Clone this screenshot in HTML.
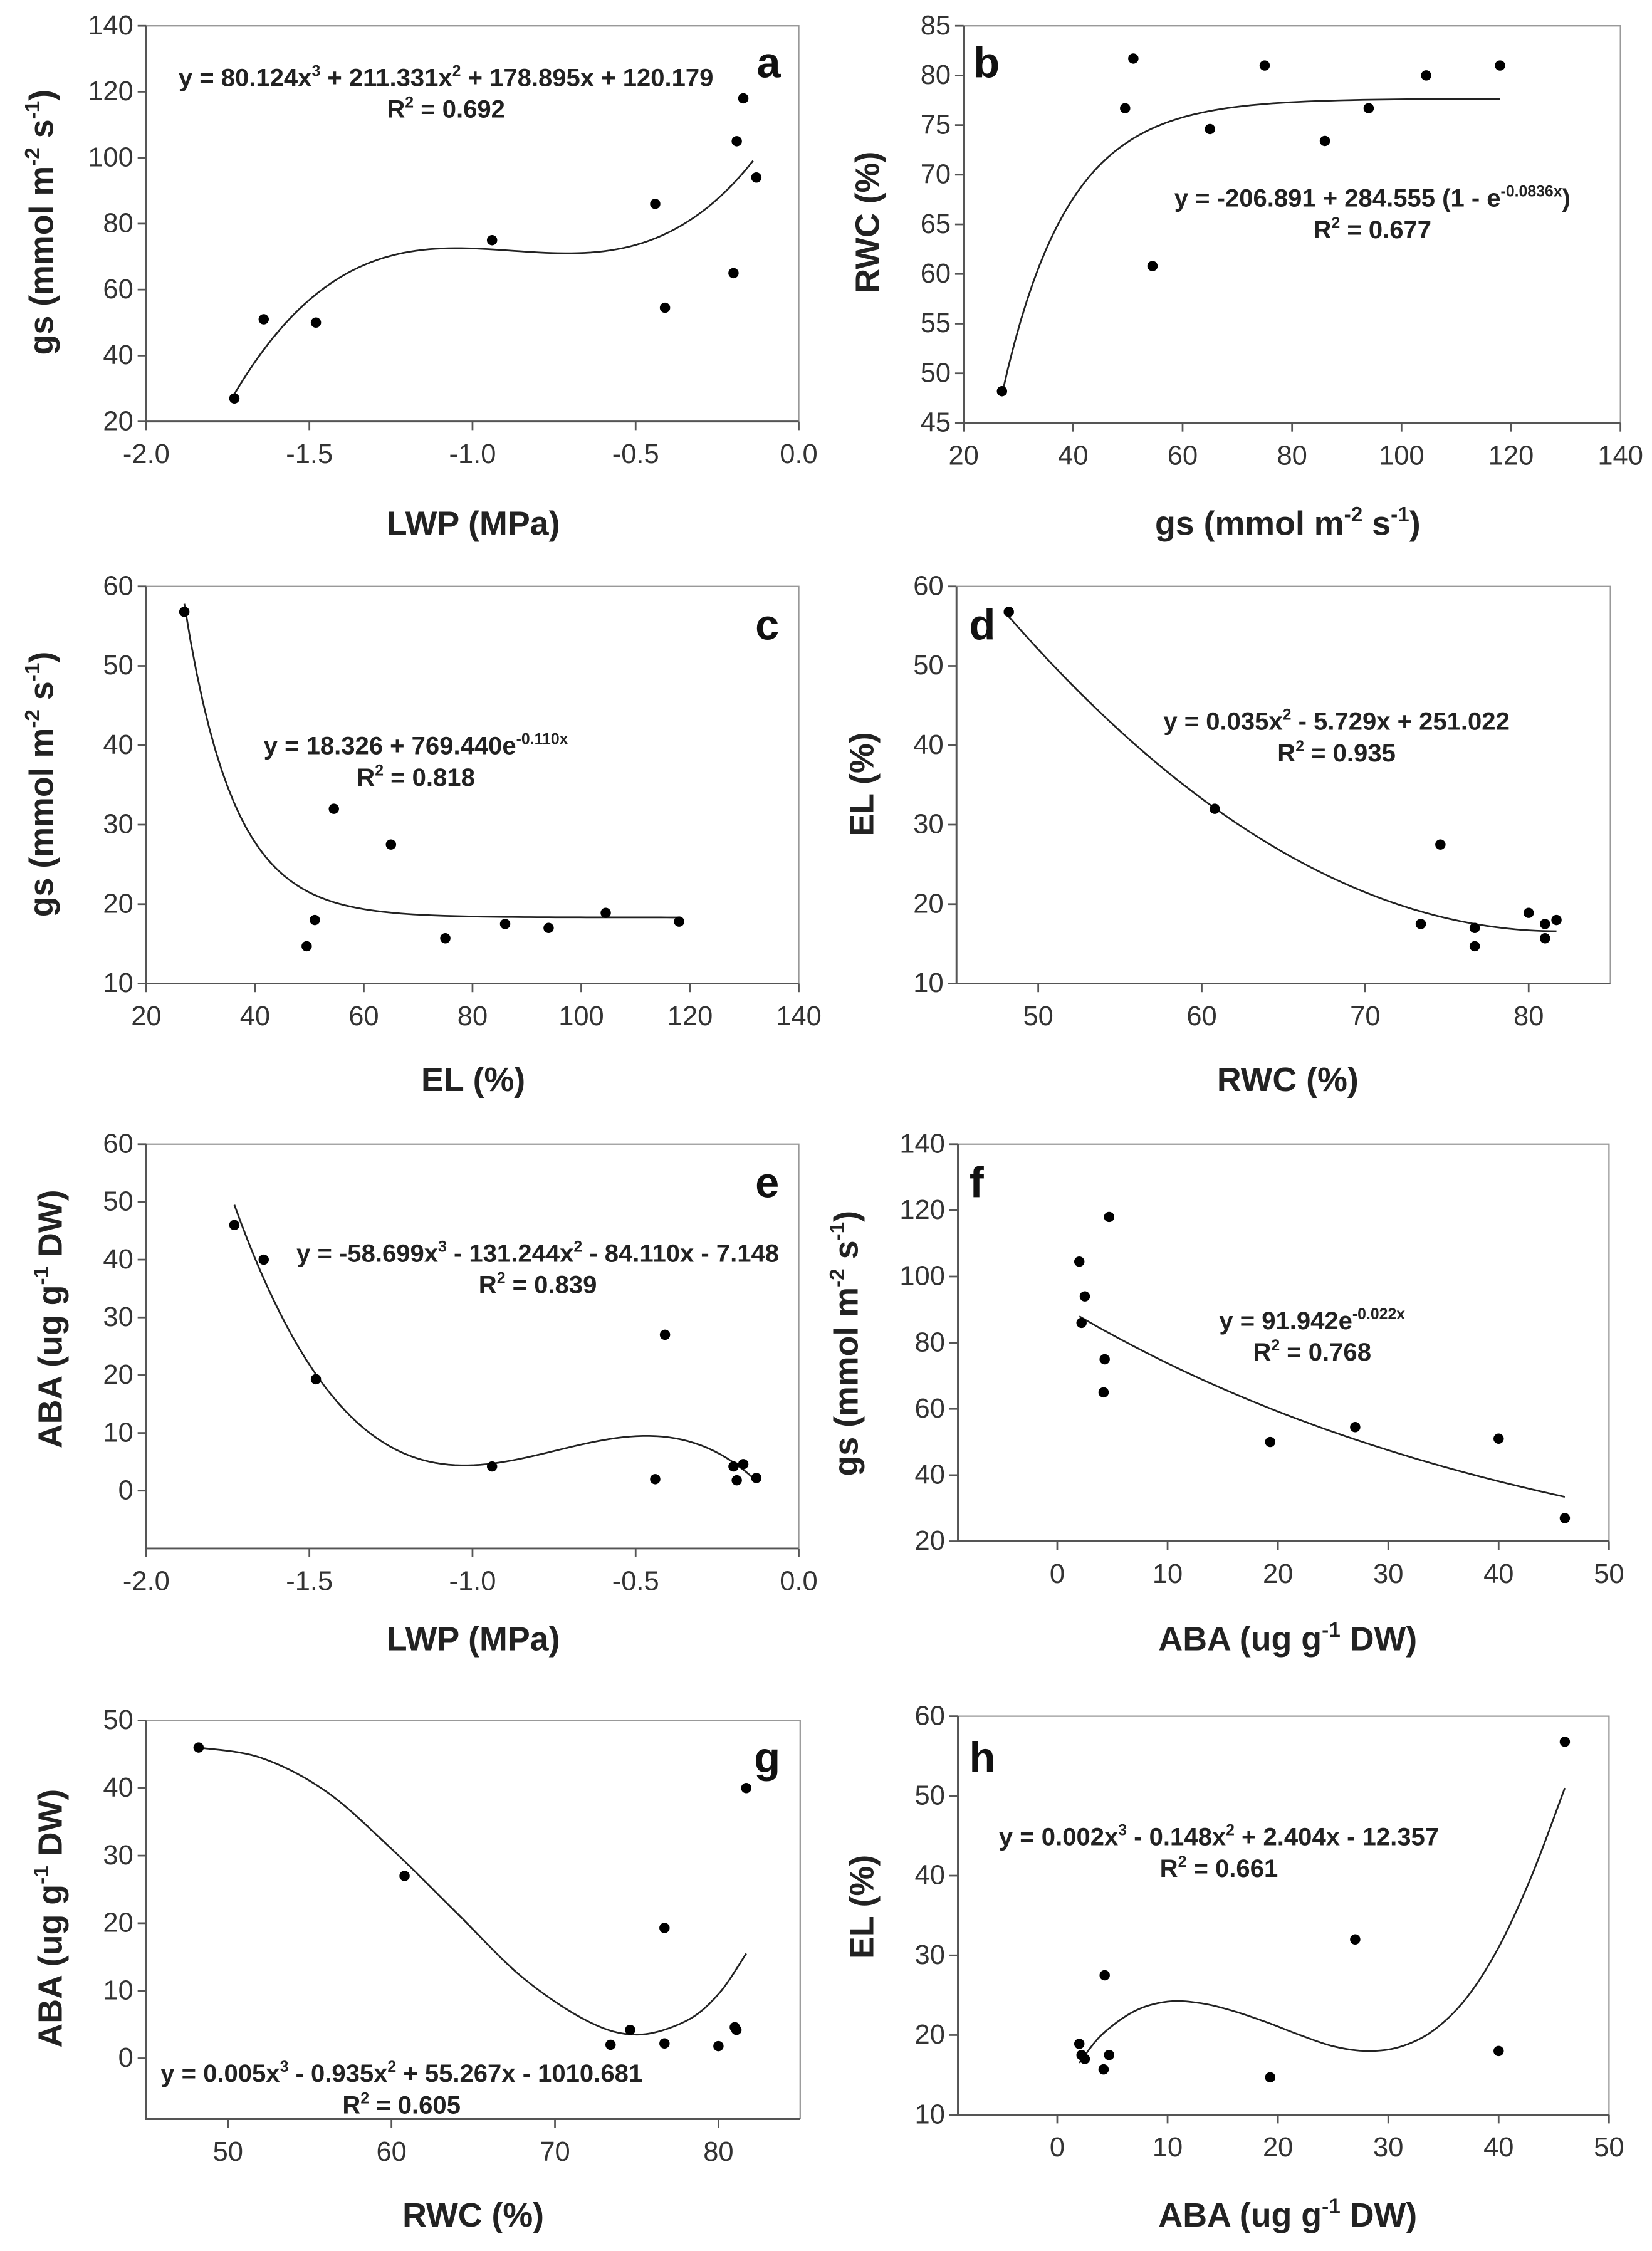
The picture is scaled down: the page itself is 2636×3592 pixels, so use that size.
<!DOCTYPE html>
<html><head><meta charset="utf-8"><title>Scatter panels</title>
<style>
html,body{margin:0;padding:0;background:#fff;}
svg{display:block;}
.tick{font-family:"Liberation Sans Narrow","Liberation Sans",sans-serif;font-size:19px;fill:#333;}
.title{font-family:"Liberation Sans",sans-serif;font-size:23.5px;font-weight:bold;fill:#222;}
.eq{font-family:"Liberation Sans Narrow","Liberation Sans",sans-serif;font-size:17.5px;font-weight:bold;fill:#222;}
.letter{font-family:"Liberation Sans",sans-serif;font-size:30px;font-weight:bold;fill:#111;}
</style></head>
<body>
<svg id="fig" width="2636" height="3592" viewBox="0 0 1152 1570" preserveAspectRatio="none" xmlns="http://www.w3.org/2000/svg"></svg>
<script>
// ---- data ----
const aX=[-1.73,-1.64,-1.48,-0.94,-0.44,-0.41,-0.20,-0.19,-0.17,-0.13];
const aY=[27,51,50,75,86,54.5,65,105,118,94];
const bX=[27,49.5,51,54.5,65,75,86,94,104.5,118];
const bY=[48.2,76.7,81.7,60.8,74.6,81,73.4,76.7,80,81];
const cX=[27,49.5,51,54.5,65,75,86,94,104.5,118];
const cY=[56.8,14.7,18,32,27.5,15.7,17.5,17,18.9,17.8];
const dX=[48.2,60.8,73.4,74.6,76.7,76.7,80,81,81,81.7];
const dY=[56.8,32,17.5,27.5,14.7,17,18.9,15.7,17.5,18];
const eX=[-1.73,-1.64,-1.48,-0.94,-0.44,-0.41,-0.20,-0.19,-0.17,-0.13];
const eY=[46,40,19.3,4.2,2,27,4.2,1.8,4.6,2.2];
const fX=[2,2.2,2.5,4.2,4.3,4.7,19.3,27,40,46];
const fY=[104.5,86,94,65,75,118,50,54.5,51,27];
const gX=[48.2,60.8,73.4,74.6,76.7,76.7,80,81,81.1,81.7];
const gY=[46,27,2,4.2,19.3,2.2,1.8,4.6,4.2,40];
const hX=[2,2.2,2.5,4.2,4.3,4.7,19.3,27,40,46];
const hY=[18.9,17.5,17,15.7,27.5,17.5,14.7,32,18,56.8];
// fitted curves for g and h
const gFitX=[48.2,52,56,60,64,68,72,75,78,80,81.7];
const gFitY=[46,44.5,39.5,31,21.5,12,5.5,3.5,5.5,9.5,15.5];
const hFitX=[2,4,7,10,13,16,19,22,25,28,31,34,37,40,43,46];
const hFitY=[16.5,20,23,24.2,24,23,21.6,20,18.6,18,18.5,20.5,24.5,31,40,51];
const aTicksX=[-2,-1.5,-1,-0.5,0], aTickLabX=["-2.0","-1.5","-1.0","-0.5","0.0"];
const ticks20_140=[20,40,60,80,100,120,140];
const ticksB_Y=[45,50,55,60,65,70,75,80,85];
const ticks10_60=[10,20,30,40,50,60];
const ticksRWC=[50,60,70,80];
const ticks0_60=[0,10,20,30,40,50,60];
const ticks0_50=[0,10,20,30,40,50];

const NS="http://www.w3.org/2000/svg";
const fig=document.getElementById('fig');
function mk(tag,attrs,parent){const e=document.createElementNS(NS,tag);for(const k in attrs)e.setAttribute(k,attrs[k]);(parent||fig).appendChild(e);return e;}
function rich(el,str,base){
  const re=/\^\{([^}]*)\}/g;let last=0,m;
  while((m=re.exec(str))){
    if(m.index>last){const t=mk('tspan',{},el);t.textContent=str.slice(last,m.index);}
    const s=mk('tspan',{dy:-base*0.4,'font-size':base*0.62},el);s.textContent=m[1];
    const r=mk('tspan',{dy:base*0.4},el);r.textContent='\u200B';
    last=re.lastIndex;
  }
  if(last<str.length){const t=mk('tspan',{},el);t.textContent=str.slice(last);}
}
function panel(p){
  const g=mk('g',{});
  
  
  const sx=v=>p.x0+(v-p.xd[0])/(p.xd[1]-p.xd[0])*(p.x1-p.x0);
  const sy=v=>p.y1-(v-p.yd[0])/(p.yd[1]-p.yd[0])*(p.y1-p.y0);
  const frame=mk('path',{d:`M${p.x0},${p.y0}H${p.x1}V${p.y1}`,fill:'none',stroke:'#999','stroke-width':1},g);
  
  const ax=mk('path',{d:`M${p.x0},${p.y0}V${p.y1}H${p.x1}`,fill:'none',stroke:'#555','stroke-width':1.3},g);
  
  p.xt.forEach((v,i)=>{const x=sx(v);mk('line',{x1:x,x2:x,y1:p.y1,y2:p.y1+6,stroke:'#555','stroke-width':1.2},g);
    const t=mk('text',{x:x,y:p.y1+29,'text-anchor':'middle',class:'tick'},g);t.textContent=p.xl?p.xl[i]:String(v);
    });
  p.yt.forEach(v=>{const y=sy(v);mk('line',{x1:p.x0-6,x2:p.x0,y1:y,y2:y,stroke:'#555','stroke-width':1.2},g);
    const t=mk('text',{x:p.x0-9,y:y+6,'text-anchor':'end',class:'tick'},g);t.textContent=String(v);
    });
  let pts=[];
  if(p.f){const n=80;for(let i=0;i<=n;i++){const x=p.cx[0]+(p.cx[1]-p.cx[0])*i/n;pts.push([sx(x),sy(p.f(x))]);}}
  else{pts=p.fx.map((x,i)=>[sx(x),sy(p.fy[i])]);}
  let d='M'+pts[0][0]+','+pts[0][1];
  if(p.f){for(let i=1;i<pts.length;i++)d+='L'+pts[i][0]+','+pts[i][1];}
  else{for(let i=0;i<pts.length-1;i++){const p0=pts[Math.max(0,i-1)],p1=pts[i],p2=pts[i+1],p3=pts[Math.min(pts.length-1,i+2)];
    d+=`C${p1[0]+(p2[0]-p0[0])/6},${p1[1]+(p2[1]-p0[1])/6} ${p2[0]-(p3[0]-p1[0])/6},${p2[1]-(p3[1]-p1[1])/6} ${p2[0]},${p2[1]}`;}}
  const c=mk('path',{d:d,fill:'none',stroke:'#222','stroke-width':1.2},g);
  
  p.px.forEach((x,i)=>{const e=mk('circle',{cx:sx(x),cy:sy(p.py[i]),r:3.6,fill:'#000'},g);
    });
  const xt=mk('text',{x:p.xT[0],y:p.xT[1],'text-anchor':'middle',class:'title'},g);rich(xt,p.xTitle,23.5);
  
  const yt=mk('text',{x:0,y:0,'text-anchor':'middle',class:'title',transform:`translate(${p.yT[0]},${p.yT[1]}) rotate(-90)`},g);rich(yt,p.yTitle,23.5);
  
  const e1=mk('text',{x:p.eq[0],y:p.eq[1],'text-anchor':'middle',class:'eq'},g);rich(e1,p.eqT,17.5);
  
  const e2=mk('text',{x:p.eq[0],y:p.eq[1]+22,'text-anchor':'middle',class:'eq'},g);rich(e2,p.r2,17.5);
  
  const l=mk('text',{x:p.let[0],y:p.let[1],'text-anchor':'middle',class:'letter'},g);l.textContent=p.id;
  
}
const GS="gs (mmol m^{-2} s^{-1})", ABA="ABA (ug g^{-1} DW)";
panel({id:'a',x0:102,x1:557,y0:18,y1:294,xd:[-2,0],yd:[20,140],xt:aTicksX,xl:aTickLabX,yt:ticks20_140,
  f:x=>80.124*x*x*x+211.331*x*x+178.895*x+120.179,cx:[-1.73,-0.14],px:aX,py:aY,
  xTitle:"LWP (MPa)",xT:[330,373],yTitle:GS,yT:[37,155],eq:[311,60],eqT:"y = 80.124x^{3} + 211.331x^{2} + 178.895x + 120.179",r2:"R^{2} = 0.692",let:[536,54]});
panel({id:'b',x0:672,x1:1130,y0:18,y1:295,xd:[20,140],yd:[45,85],xt:ticks20_140,yt:ticksB_Y,
  f:x=>-206.891+284.555*(1-Math.exp(-0.0836*x)),cx:[27,118],px:bX,py:bY,
  xTitle:GS,xT:[898,373],yTitle:"RWC (%)",yT:[613,155],eq:[957,144],eqT:"y = -206.891 + 284.555 (1 - e^{-0.0836x})",r2:"R^{2} = 0.677",let:[688,54]});
panel({id:'c',x0:102,x1:557,y0:409,y1:686,xd:[20,140],yd:[10,60],xt:ticks20_140,yt:ticks10_60,
  f:x=>18.326+769.44*Math.exp(-0.110*x),cx:[27,118],px:cX,py:cY,
  xTitle:"EL (%)",xT:[330,761],yTitle:GS,yT:[37,547],eq:[290,526],eqT:"y = 18.326 + 769.440e^{-0.110x}",r2:"R^{2} = 0.818",let:[535,446]});
panel({id:'d',x0:667,x1:1123,y0:409,y1:686,xd:[45,85],yd:[10,60],xt:ticksRWC,yt:ticks10_60,
  f:x=>0.035*x*x-5.729*x+251.022,cx:[48.2,81.7],px:dX,py:dY,
  xTitle:"RWC (%)",xT:[898,761],yTitle:"EL (%)",yT:[609,547],eq:[932,509],eqT:"y = 0.035x^{2} - 5.729x + 251.022",r2:"R^{2} = 0.935",let:[685,446]});
panel({id:'e',x0:102,x1:557,y0:798,y1:1080,xd:[-2,0],yd:[-10,60],xt:aTicksX,xl:aTickLabX,yt:ticks0_60,
  f:x=>-58.699*x*x*x-131.244*x*x-84.110*x-7.148,cx:[-1.73,-0.14],px:eX,py:eY,
  xTitle:"LWP (MPa)",xT:[330,1151],yTitle:ABA,yT:[43,920],eq:[375,880],eqT:"y = -58.699x^{3} - 131.244x^{2} - 84.110x - 7.148",r2:"R^{2} = 0.839",let:[535,835]});
panel({id:'f',x0:668,x1:1122,y0:798,y1:1075,xd:[-9,50],yd:[20,140],xt:ticks0_50,yt:ticks20_140,
  f:x=>91.942*Math.exp(-0.022*x),cx:[2,46],px:fX,py:fY,
  xTitle:ABA,xT:[898,1151],yTitle:GS,yT:[598,937],eq:[915,927],eqT:"y = 91.942e^{-0.022x}",r2:"R^{2} = 0.768",let:[681,835]});
panel({id:'g',x0:102,x1:558,y0:1200,y1:1478,xd:[45,85],yd:[-9,50],xt:ticksRWC,yt:ticks0_50,
  fx:gFitX,fy:gFitY,px:gX,py:gY,
  xTitle:"RWC (%)",xT:[330,1553],yTitle:ABA,yT:[43,1338],eq:[280,1452],eqT:"y = 0.005x^{3} - 0.935x^{2} + 55.267x - 1010.681",r2:"R^{2} = 0.605",let:[535,1236]});
panel({id:'h',x0:668,x1:1122,y0:1197,y1:1475,xd:[-9,50],yd:[10,60],xt:ticks0_50,yt:ticks10_60,
  fx:hFitX,fy:hFitY,px:hX,py:hY,
  xTitle:ABA,xT:[898,1553],yTitle:"EL (%)",yT:[609,1330],eq:[850,1287],eqT:"y = 0.002x^{3} - 0.148x^{2} + 2.404x - 12.357",r2:"R^{2} = 0.661",let:[685,1236]});
</script>
</body></html>
